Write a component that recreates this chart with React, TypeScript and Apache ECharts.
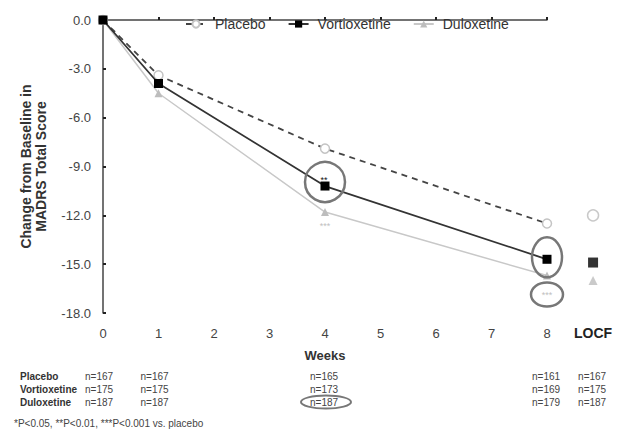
import React, { useEffect, useRef } from "react";
import * as echarts from "echarts";

const weeks = [0, 1, 4, 8];
const placebo = [0, -3.4, -7.9, -12.5];
const vortioxetine = [0, -3.9, -10.2, -14.7];
const duloxetine = [0, -4.5, -11.8, -15.7];
const locfX = 8.83;
const locfPlacebo = -12.0;
const locfVortioxetine = -14.9;
const locfDuloxetine = -16.0;
const xTickLabels = ["0", "1", "2", "3", "4", "5", "6", "7", "8"];
const tableGroups = ["Placebo", "Vortioxetine", "Duloxetine"];
const tableCols = [0, 1, 4, 8, locfX];
const nPlacebo = [167, 167, 165, 161, 167];
const nVortioxetine = [175, 175, 173, 169, 175];
const nDuloxetine = [187, 187, 187, 179, 187];
const footnote = "*P<0.05, **P<0.01, ***P<0.001 vs. placebo";

const FONT = "Liberation Sans, Arial, sans-serif";

export default function App() {
  const ref = useRef<HTMLDivElement>(null);
  useEffect(() => {
    document.body.style.margin = "0";
    const chart = echarts.init(ref.current!, null, { renderer: "svg" });
    const pair = (xs: number[], ys: number[]) => xs.map((x, i) => [x, ys[i]]);
    chart.setOption({
      animation: false,
      backgroundColor: "#fff",
      textStyle: { fontFamily: FONT },
      legend: {
        top: 12,
        left: 180,
        itemGap: 22,
        itemWidth: 20,
        itemHeight: 9,
        textStyle: { fontSize: 14, color: "#333", fontFamily: FONT, padding: [0, 0, 0, 4] },
        data: ["Placebo", "Vortioxetine", "Duloxetine"],
      },
      grid: { left: 103, top: 20, right: 70, bottom: 116 },
      xAxis: {
        type: "value",
        min: 0,
        max: 8,
        interval: 1,
        splitLine: { show: false },
        axisLine: { lineStyle: { color: "#444", width: 1.5 } },
        axisTick: { show: true, length: 3, inside: true, lineStyle: { color: "#222", width: 2 } },
        axisLabel: {
          fontSize: 13,
          color: "#444",
          margin: 14,
          formatter: (v: number) => xTickLabels[v] ?? "",
        },
        name: "Weeks",
        nameLocation: "middle",
        nameGap: 36,
        nameTextStyle: { fontSize: 13, fontWeight: "bold", color: "#333" },
      },
      yAxis: {
        type: "value",
        min: -18,
        max: 0,
        interval: 3,
        splitLine: { show: false },
        axisLine: { show: true, lineStyle: { color: "#444", width: 1.5 } },
        axisTick: { show: true, length: 3, inside: true, lineStyle: { color: "#222", width: 2 } },
        axisLabel: {
          fontSize: 13,
          color: "#444",
          margin: 12,
          formatter: (v: number) => v.toFixed(1),
        },
        name: "Change from Baseline in\nMADRS Total Score",
        nameLocation: "middle",
        nameGap: 55,
        nameTextStyle: { fontSize: 14, fontWeight: "bold", color: "#333", lineHeight: 15 },
      },
      series: [
        {
          name: "Duloxetine",
          type: "line",
          data: pair(weeks, duloxetine),
          lineStyle: { color: "#c8c8c8", width: 1.5 },
          itemStyle: { color: "#bdbdbd" },
          symbol: "triangle",
          symbolSize: 8,
          z: 2,
        },
        {
          name: "Placebo",
          type: "line",
          data: pair(weeks, placebo),
          lineStyle: { color: "#444", width: 1.8, type: [6, 5] },
          itemStyle: { color: "#fff", borderColor: "#c4c4c4", borderWidth: 1.5 },
          symbol: "circle",
          symbolSize: 9,
          showAllSymbol: true,
          z: 3,
        },
        {
          name: "Vortioxetine",
          type: "line",
          data: pair(weeks, vortioxetine),
          lineStyle: { color: "#333", width: 1.8 },
          itemStyle: { color: "#000" },
          symbol: "rect",
          symbolSize: 9,
          z: 4,
        },
        {
          name: "Placebo LOCF",
          type: "scatter",
          clip: false,
          data: [[locfX, locfPlacebo]],
          symbol: "circle",
          symbolSize: 11,
          itemStyle: { color: "#fff", borderColor: "#bbb", borderWidth: 1.5 },
        },
        {
          name: "Vortioxetine LOCF",
          type: "scatter",
          clip: false,
          data: [[locfX, locfVortioxetine]],
          symbol: "rect",
          symbolSize: 10,
          itemStyle: { color: "#000" },
        },
        {
          name: "Duloxetine LOCF",
          type: "scatter",
          clip: false,
          data: [[locfX, locfDuloxetine]],
          symbol: "triangle",
          symbolSize: 9,
          itemStyle: { color: "#bdbdbd" },
        },
      ],
    });

    const px = (x: number, y: number) => chart.convertToPixel({ gridIndex: 0 }, [x, y]) as number[];
    const g: any[] = [];
    const locfPos = px(locfX, -18);
    g.push({
      type: "text",
      x: locfPos[0],
      y: locfPos[1] + 20,
      style: { text: "LOCF", fontSize: 14, fontWeight: "bold", fill: "#222", align: "center", verticalAlign: "middle", fontFamily: FONT },
    });
    const v4 = px(4, vortioxetine[2]);
    g.push({ type: "circle", shape: { cx: v4[0], cy: v4[1] - 4, r: 20 }, style: { fill: "none", stroke: "#777", lineWidth: 2.5 }, z: 10 });
    g.push({ type: "text", x: v4[0] - 1, y: v4[1] - 6, style: { text: "**", fontSize: 9, fill: "#111", align: "center", verticalAlign: "middle" }, z: 11 });
    const d4 = px(4, duloxetine[2]);
    g.push({ type: "text", x: d4[0], y: d4[1] + 14, style: { text: "***", fontSize: 9, fill: "#c0c0c0", align: "center", verticalAlign: "middle" } });
    const v8 = px(8, vortioxetine[3]);
    g.push({ type: "ellipse", shape: { cx: v8[0], cy: v8[1] - 2, rx: 15, ry: 20 }, style: { fill: "none", stroke: "#777", lineWidth: 2.5 }, z: 10 });
    const d8 = px(8, duloxetine[3]);
    g.push({ type: "ellipse", shape: { cx: d8[0], cy: d8[1] + 19, rx: 16, ry: 12 }, style: { fill: "none", stroke: "#777", lineWidth: 2.5 }, z: 10 });
    g.push({ type: "text", x: d8[0], y: d8[1] + 19, style: { text: "***", fontSize: 9, fill: "#c0c0c0", align: "center", verticalAlign: "middle" } });

    const rows = [nPlacebo, nVortioxetine, nDuloxetine];
    const rowY = [376, 389, 402];
    tableGroups.forEach((name, r) => {
      g.push({ type: "text", x: 20, y: rowY[r], style: { text: name, fontSize: 10, fontWeight: "bold", fill: "#333", verticalAlign: "middle", fontFamily: FONT } });
      tableCols.forEach((c, i) => {
        const p = px(c, 0);
        const off = i <= 1 ? -18 : -15;
        g.push({ type: "text", x: p[0] + off, y: rowY[r], style: { text: "n=" + rows[r][i], fontSize: 10, fill: "#444", verticalAlign: "middle", fontFamily: FONT } });
      });
    });
    const t4 = px(4, 0);
    g.push({ type: "ellipse", shape: { cx: t4[0] + 1, cy: rowY[2], rx: 25, ry: 6.5 }, style: { fill: "none", stroke: "#777", lineWidth: 2 } });
    g.push({ type: "text", x: 14, y: 423, style: { text: footnote, fontSize: 10, fill: "#444", verticalAlign: "middle", fontFamily: FONT } });

    chart.setOption({ graphic: g });
    return () => chart.dispose();
  }, []);
  return <div ref={ref} style={{ width: 617, height: 429 }} />;
}
